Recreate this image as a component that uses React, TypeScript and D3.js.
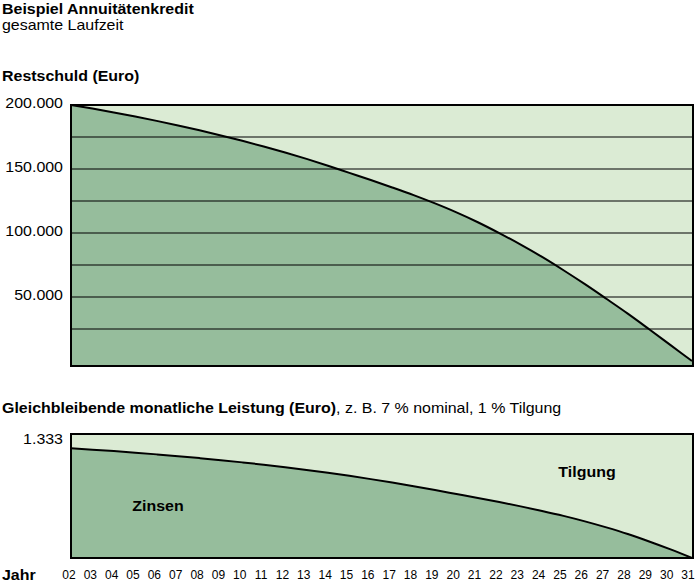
import * as d3 from "d3";
import type { ReactNode } from "react";

// Jahre 2002..2031 (Achsenbeschriftung zweistellig)
const years = d3.range(2, 32);
const yearLabels = years.map((y) => String(y).padStart(2, "0"));

// Restschuld in Euro
const restschuld = [
  200000, 197200, 194200, 191000, 187600, 184000, 180200, 176200, 172000,
  167600, 162900, 157900, 152600, 147000, 141400, 135600, 129600, 123100,
  116100, 108400, 99900, 90900, 81300, 70900, 60000, 48600, 37000, 24800,
  12400, 0,
];

// Zinsanteil der Monatsrate in Euro
const zinsen = [
  1180, 1165, 1149, 1132, 1114, 1095, 1074, 1052, 1028, 1003, 976, 947, 916,
  883, 848, 811, 772, 731, 688, 645, 601, 555, 506, 453, 394, 329, 258, 178,
  92, 0,
];

const schuldTicks = [50000, 100000, 150000, 200000];
const gridTicks = d3.range(25000, 200000, 25000);
const rate = 1333;

const dark = "#96bd9c";
const light = "#dbebd4";
const font = "'Liberation Sans', Arial, sans-serif";
const stretch = 1.14; // Schrift im Original leicht in die Breite gezogen

const fmt = (v: number) => d3.format(",")(v).replace(/,/g, ".");

function T({
  x,
  y,
  anchor = "start",
  bold = false,
  size = 14,
  children,
}: {
  x: number;
  y: number;
  anchor?: string;
  bold?: boolean;
  size?: number;
  children: ReactNode;
}) {
  return (
    <text
      transform={`translate(${x},${y}) scale(${stretch},1)`}
      textAnchor={anchor}
      fontWeight={bold ? "bold" : "normal"}
      fontSize={size}
    >
      {children}
    </text>
  );
}

export default function App() {
  const width = 700;
  const height = 586;
  const left = 71;
  const right = 693;

  const x = d3.scaleLinear().domain([2, 31]).range([left, right - 1]);
  // Jahreszahlen sitzen etwas enger als die Kurvenpunkte
  const xLabel = d3.scaleLinear().domain([2, 31]).range([69, 688]);

  // oberes Diagramm
  const top1 = 105;
  const bottom1 = 366;
  const y1 = d3.scaleLinear().domain([0, 200000]).range([361, top1]);

  // unteres Diagramm
  const top2 = 434;
  const bottom2 = 558;
  const y2 = d3.scaleLinear().domain([0, rate]).range([bottom2, top2]);

  const area1 = d3
    .area<number>()
    .x((d, i) => x(years[i]))
    .y0(bottom1)
    .y1((d) => y1(d))
    .curve(d3.curveMonotoneX);
  const line1 = d3
    .line<number>()
    .x((d, i) => x(years[i]))
    .y((d) => y1(d))
    .curve(d3.curveMonotoneX);

  const area2 = d3
    .area<number>()
    .x((d, i) => x(years[i]))
    .y0(bottom2)
    .y1((d) => y2(d))
    .curve(d3.curveMonotoneX);
  const line2 = d3
    .line<number>()
    .x((d, i) => x(years[i]))
    .y((d) => y2(d))
    .curve(d3.curveMonotoneX);

  return (
    <svg
      width={width}
      height={height}
      style={{ position: "absolute", left: 0, top: 0, background: "#fff" }}
      fontFamily={font}
    >
      {/* Titel */}
      <T x={2} y={14} bold>
        Beispiel Annuitätenkredit
      </T>
      <T x={2} y={30}>gesamte Laufzeit</T>
      <T x={2} y={81} bold>
        Restschuld (Euro)
      </T>

      {/* oberes Diagramm */}
      <rect x={left} y={top1} width={right - left} height={bottom1 - top1} fill={light} />
      <path d={area1(restschuld) ?? ""} fill={dark} />
      {gridTicks.map((t) => (
        <line key={t} x1={left} x2={right} y1={y1(t)} y2={y1(t)} stroke="#000" strokeWidth={1.2} />
      ))}
      <path d={line1(restschuld) ?? ""} fill="none" stroke="#000" strokeWidth={2} />
      <rect
        x={left}
        y={top1}
        width={right - left}
        height={bottom1 - top1}
        fill="none"
        stroke="#000"
        strokeWidth={2}
      />
      {schuldTicks.map((t) => (
        <T key={t} x={63} y={y1(t) + 3} anchor="end">
          {fmt(t)}
        </T>
      ))}

      {/* unteres Diagramm */}
      <text
        transform={`translate(2,413) scale(${stretch},1)`}
        fontSize={14}
      >
        <tspan fontWeight="bold">Gleichbleibende monatliche Leistung (Euro)</tspan>
        <tspan>, z. B. 7 % nominal, 1 % Tilgung</tspan>
      </text>
      <rect x={left} y={top2} width={right - left} height={bottom2 - top2} fill={light} />
      <path d={area2(zinsen) ?? ""} fill={dark} />
      <path d={line2(zinsen) ?? ""} fill="none" stroke="#000" strokeWidth={2} />
      <rect
        x={left}
        y={top2}
        width={right - left}
        height={bottom2 - top2}
        fill="none"
        stroke="#000"
        strokeWidth={2}
      />
      <T x={63} y={y2(rate) + 10} anchor="end">
        {fmt(rate)}
      </T>
      <T x={158} y={511} bold anchor="middle">
        Zinsen
      </T>
      <T x={587} y={477} bold anchor="middle">
        Tilgung
      </T>

      {/* x-Achse */}
      <T x={2} y={580} bold>
        Jahr
      </T>
      {years.map((yr, i) => (
        <text key={yr} x={xLabel(yr)} y={579} fontSize={12} textAnchor="middle">
          {yearLabels[i]}
        </text>
      ))}
    </svg>
  );
}
